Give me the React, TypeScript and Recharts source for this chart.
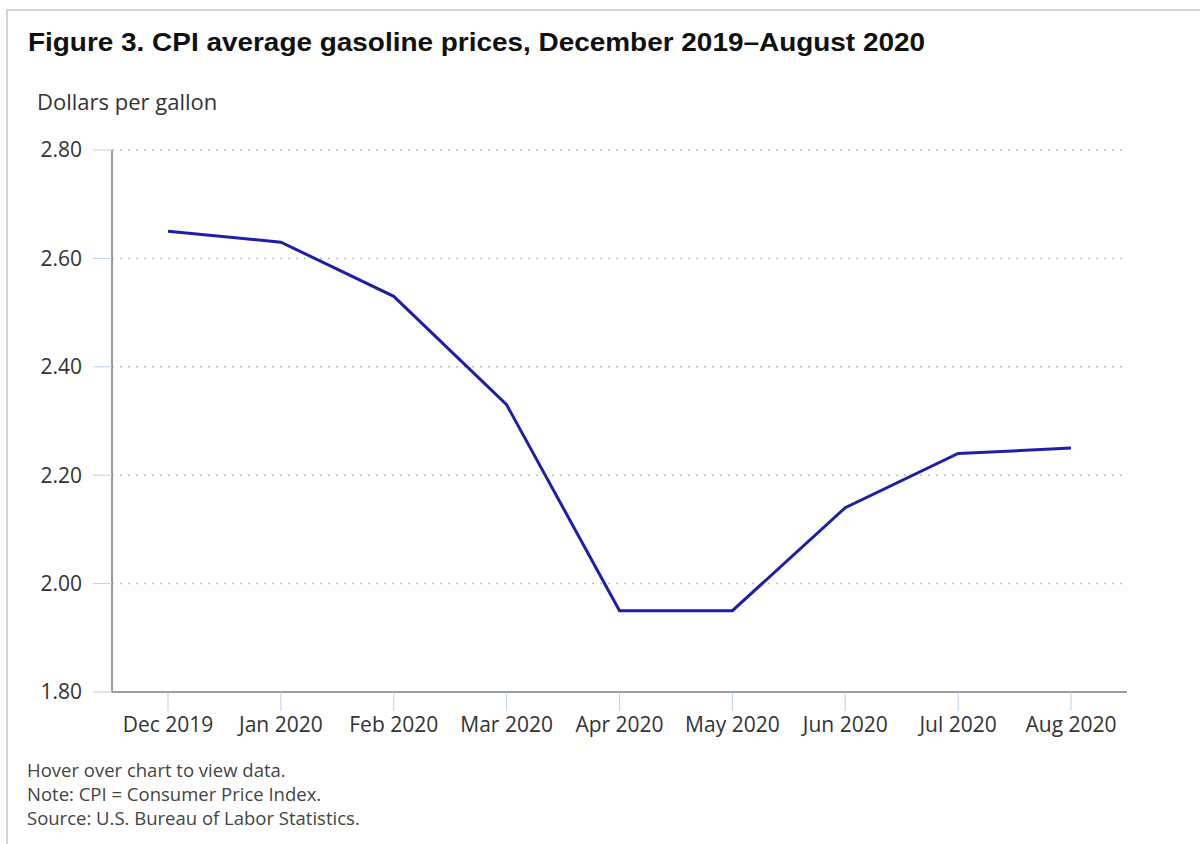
import React from 'react';
import { LineChart, Line, XAxis, YAxis, CartesianGrid } from 'recharts';

const months = ['Dec 2019', 'Jan 2020', 'Feb 2020', 'Mar 2020', 'Apr 2020', 'May 2020', 'Jun 2020', 'Jul 2020', 'Aug 2020'];
const prices = [2.65, 2.63, 2.53, 2.33, 1.95, 1.95, 2.14, 2.24, 2.25];
const yTicks = [1.8, 2.0, 2.2, 2.4, 2.6, 2.8];

const titleText = 'Figure 3. CPI average gasoline prices, December 2019\u2013August 2020';
const yLabel = 'Dollars per gallon';
const footerLines = ['Hover over chart to view data.', 'Note: CPI = Consumer Price Index.', 'Source: U.S. Bureau of Labor Statistics.'];

const data = months.map((m, i) => ({ month: m, price: prices[i] }));

const FONT = "'Open Sans', sans-serif";

export default function App() {
  return (
    <div style={{ position: 'absolute', left: 0, top: 0, width: 1200, height: 844, overflow: 'hidden', background: '#fff' }}>
      <div style={{ position: 'absolute', left: 6, top: 9, width: 1300, height: 900, borderLeft: '2px solid #d4d4d4', borderTop: '2px solid #d4d4d4' }} />
      <div style={{ position: 'absolute', left: 0, top: 0 }}>
        <LineChart width={1200} height={844} data={data} margin={{ top: 150, right: 73, bottom: 92, left: 52 }}>
          <CartesianGrid vertical={false} stroke="#bdbdbd" strokeDasharray="2 6" strokeWidth={1.5} />
          <XAxis
            dataKey="month"
            height={60}
            padding={{ left: 56, right: 56 }}
            axisLine={{ stroke: '#9c9c9c', strokeWidth: 2 }}
            tickLine={{ stroke: '#bcd0e6', strokeWidth: 1 }}
            tickSize={19}
            tickMargin={6}
            interval={0}
            tick={{ fill: '#333', fontSize: 21, fontFamily: FONT }}
          />
          <YAxis
            type="number"
            domain={[1.8, 2.8]}
            ticks={yTicks}
            interval={0}
            width={60}
            axisLine={{ stroke: '#9c9c9c', strokeWidth: 2 }}
            tickLine={{ stroke: '#bcd0e6', strokeWidth: 1 }}
            tickSize={19}
            tickMargin={11}
            tickFormatter={(v: number) => v.toFixed(2)}
            tick={{ fill: '#333', fontSize: 21, fontFamily: FONT }}
          />
          <Line
            type="linear"
            dataKey="price"
            stroke="#1e1eaa"
            strokeWidth={3}
            dot={false}
            activeDot={false}
            isAnimationActive={false}
          />
        </LineChart>
      </div>
      <svg width={1200} height={844} style={{ position: 'absolute', left: 0, top: 0, pointerEvents: 'none' }}>
        <text x={28} y={51} fontFamily="'Liberation Sans', Arial, sans-serif" fontWeight="bold" fontSize={26} fill="#111" textLength={897} lengthAdjust="spacingAndGlyphs">
          {titleText}
        </text>
        <text x={37} y={110} fontFamily={FONT} fontSize={22} fill="#333">
          {yLabel}
        </text>
        {footerLines.map((t, i) => (
          <text key={t} x={27} y={777 + i * 24} fontFamily={FONT} fontSize={18.5} fill="#444">
            {t}
          </text>
        ))}
      </svg>
    </div>
  );
}
